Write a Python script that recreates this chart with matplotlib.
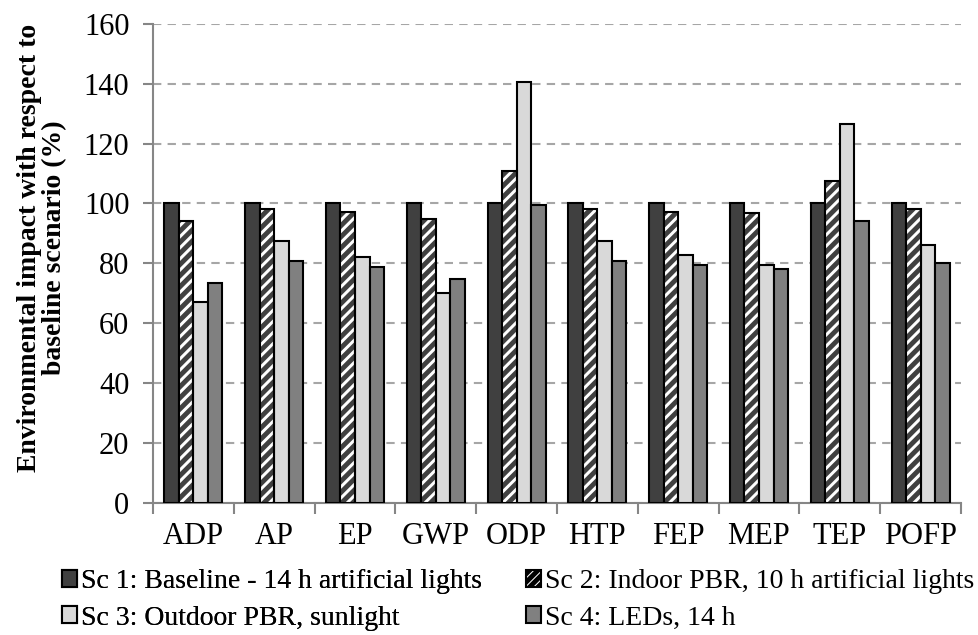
import matplotlib
matplotlib.use("Agg")
import matplotlib.pyplot as plt
from matplotlib.patches import Patch
from matplotlib.ticker import FixedLocator
import numpy as np

categories = ["ADP", "AP", "EP", "GWP", "ODP", "HTP", "FEP", "MEP", "TEP", "POFP"]
sc1 = [100, 100, 100, 100, 100, 100, 100, 100, 100, 100]
sc2 = [94.0, 98.1, 97.3, 94.8, 110.8, 98.1, 97.3, 96.8, 107.5, 98.1]
sc3 = [67.2, 87.4, 82.1, 70.0, 140.6, 87.4, 82.7, 79.4, 126.7, 86.1]
sc4 = [73.4, 80.8, 78.7, 74.7, 99.4, 80.8, 79.4, 78.0, 94.1, 80.1]
labels = ["Sc 1: Baseline - 14 h artificial lights",
          "Sc 2: Indoor PBR, 10 h artificial lights",
          "Sc 3: Outdoor PBR, sunlight",
          "Sc 4: LEDs, 14 h"]
yticks = [0, 20, 40, 60, 80, 100, 120, 140, 160]

SERIF = 'Liberation Serif'
plt.rcParams['font.family'] = [SERIF, 'DejaVu Serif']
plt.rcParams['hatch.linewidth'] = 3.5

fig = plt.figure(figsize=(9.79, 6.35), dpi=100)
ax = fig.add_axes([153/979, 1 - 502.5/635, (961-153)/979, (502.5-24)/635])

x = np.arange(len(categories))
w = 0.18
ax.bar(x - 1.5*w, sc1, w, color="#404040", edgecolor="black", linewidth=1.5, zorder=3)
ax.bar(x - 0.5*w, sc2, w, color="white", edgecolor="#404040", linewidth=0, hatch="///", zorder=3)
ax.bar(x - 0.5*w, sc2, w, fill=False, edgecolor="black", linewidth=1.5, zorder=4)
ax.bar(x + 0.5*w, sc3, w, color="#d9d9d9", edgecolor="black", linewidth=1.5, zorder=3)
ax.bar(x + 1.5*w, sc4, w, color="#808080", edgecolor="black", linewidth=1.5, zorder=3)

ax.set_xlim(-0.5, len(categories) - 0.5)
ax.set_ylim(0, 160)
ax.set_yticks(yticks)
ax.set_yticklabels([str(v) for v in yticks])
ax.yaxis.grid(True, linestyle=(0, (4, 3)), color="#a6a6a6", linewidth=1.5, zorder=0)
ax.set_axisbelow(True)

ax.set_xticks(x)
ax.set_xticklabels(categories)
ax.xaxis.set_minor_locator(FixedLocator(np.arange(-0.5, len(categories), 1.0)))
ax.tick_params(axis="x", which="major", length=0, pad=14, labelsize=22)
ax.tick_params(axis="x", which="minor", length=8, width=1.5, color="#868686", direction="out")
ax.tick_params(axis="y", which="major", length=7, width=1.5, color="#868686", direction="out",
               pad=10, labelsize=22)
for t in ax.get_xticklabels() + ax.get_yticklabels():
    t.set_family(SERIF)

for s in ["top", "right"]:
    ax.spines[s].set_visible(False)
for s in ["left", "bottom"]:
    ax.spines[s].set_color("#868686")
    ax.spines[s].set_linewidth(1.5)

fig.text(42/979, 1 - 248/635,
         "Environmental impact with respect to\nbaseline scenario (%)",
         rotation=90, ha="center", va="center", multialignment="center",
         fontsize=20, fontweight="bold", linespacing=1.05, family=SERIF)

h1 = Patch(facecolor="#404040", edgecolor="black", linewidth=1.5)
h2 = Patch(facecolor="white", edgecolor="black", linewidth=1.5, hatch="////")
h3 = Patch(facecolor="#d9d9d9", edgecolor="black", linewidth=1.5)
h4 = Patch(facecolor="#808080", edgecolor="black", linewidth=1.5)

common = dict(loc="upper left", frameon=False, prop={'family': SERIF, 'size': 20},
              handlelength=0.55, handleheight=0.55, handletextpad=0.15,
              labelspacing=0.42, borderpad=0, borderaxespad=0)
leg1 = fig.legend([h1, h3], [labels[0], labels[2]],
                  bbox_to_anchor=(62/979, 1 - 569/635), **common)
fig.add_artist(leg1)
leg2 = fig.legend([h2, h4], [labels[1], labels[3]],
                  bbox_to_anchor=(526/979, 1 - 569/635), **common)
for lg in (leg1, leg2):
    for t in lg.get_texts():
        t.set_family(SERIF)

fig.savefig("out.png", dpi=100)
